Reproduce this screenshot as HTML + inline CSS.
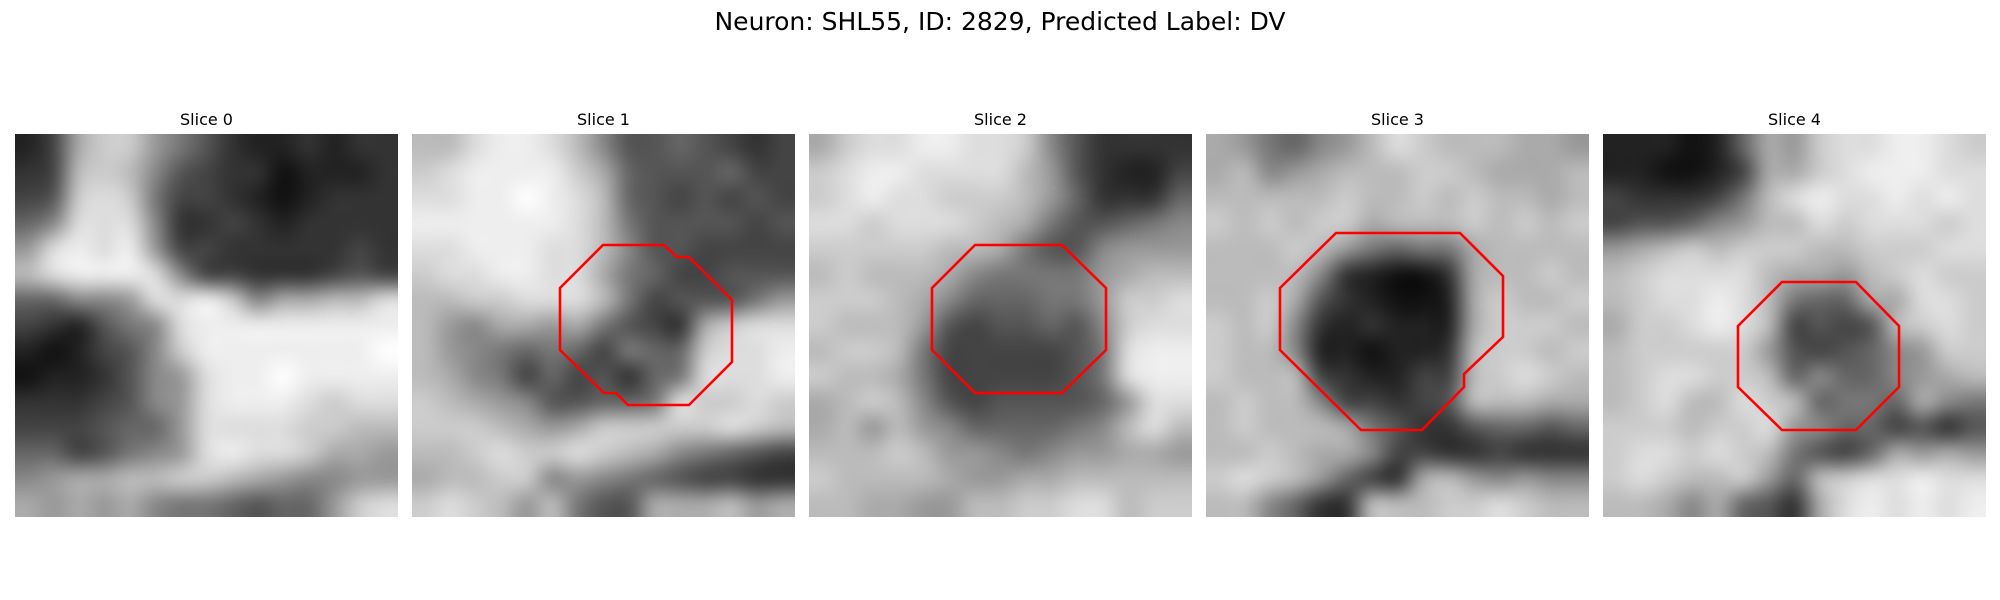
<!DOCTYPE html>
<html><head><meta charset="utf-8">
<style>
body{margin:0;background:#fff;width:2000px;height:600px;position:relative;overflow:hidden;font-family:"DejaVu Sans","Liberation Sans",sans-serif;}
#title{position:absolute;left:0;width:2000px;top:7px;text-align:center;font-size:25px;color:#000;}
.ptitle{position:absolute;width:383px;top:110px;text-align:center;font-size:16px;color:#000;}
canvas{position:absolute;top:134px;width:383px;height:383px;}
svg{position:absolute;left:0;top:0;}
</style></head><body>
<div id="title">Neuron: SHL55, ID: 2829, Predicted Label: DV</div>
<svg id="ov" width="2000" height="600"></svg>
<script>
const panelTitles=["Slice 0","Slice 1","Slice 2","Slice 3","Slice 4"];
const slice0=["24acc9753223233","34bcb8543312223","45cdc7443212333","68ddd8334323333","9dede9443333343","bdeeed844333454","66889ddec8aabbd","432578deeeeeeee","212458ceeeeeeef","1223589deefeeee","3334589deeedcdd","4445669ddddccbb","6645789deddcaa9","89aabbccba98899","a9a9a87765669cd"];
const slice1=["bbdeedb85565434","cdeeeeca6555644","ddeefedb6545454","eeeeeedb7555545","ddeeeddb8554444","cddeedda7644555","bbccdddb7455579","b98aa9a7543acdd","b9876764766cdde","ba874645367ddde","cba9855667dccdc","cccba9acccccdcb","bbcdccdcba87654","abbcc8987654433","cdcb9b755aaab9a"];
const slice2=["acddeeddc853333","cdeeddddb953224","cdeddcccb963336","ddcdddcba755678","cccccbba7558999","bcbbba877779abb","cccba8666779ccd","cbbb95455658cdd","bccb74444457dee","cbba74444457dee","abcb854555569dd","ab9b98666678bdb","bbbcb9987899aa9","cbbbba99aabbbbb","bbaa99bbccddbcc"];
const slice3=["a97689bdcbbbaa9","ab89abbbccbaaab","bbbbbcbbcbcbbab","cbcbccabbbcbcbc","bbbcb97677abbbb","bbbb832113abbcb","bbca532112acbbc","cbc8323222acccb","cbb8221223bccbc","cbbb432244bcdcb","bcbb844345bbbaa","bcbbba753356656","bbcbaa844334333","cdcb9643ab98988","bb8633bbbccdcbb"];
const slice4=["222126a9cddeedc","221124aacdeeedd","433347bdeddeded","455689bbdcdddcd","9abcbcccbbcccdd","bcddddbaa9bcdcc","bcddedb766aaddc","accdedb4545bcdc","bccccc9545689cc","bcddccb686689ab","bcdbbdcb6776a87","cccbccd98664535","cddcdcb7546a9a9","cdcbbc96bcddedd","bba8a653adedede"];
const slices=[slice0,slice1,slice2,slice3,slice4];
const roi1=[[603,245],[664,245],[677,257],[689,257],[732,300],[732,362],[689,405],[628,405],[616,393],[604,393],[560,350],[560,288]];
const roi2=[[975,245],[1062,245],[1106,288],[1106,350],[1062,393],[975,393],[932,350],[932,288]];
const roi3=[[1336,233],[1460,233],[1503,276],[1503,337],[1464,374],[1464,387],[1422,430],[1361,430],[1280,350],[1280,288]];
const roi4=[[1782,282],[1856,282],[1899,326],[1899,387],[1856,430],[1782,430],[1738,387],[1738,326]];
const rois=[null,roi1,roi2,roi3,roi4];
const lefts=[15,412,809,1206,1603];
const N=15;
slices.forEach((g,p)=>{
  const t=document.createElement('div');
  t.className='ptitle';t.style.left=lefts[p]+'px';t.textContent=panelTitles[p];
  
  
  document.body.appendChild(t);
  const small=document.createElement('canvas');small.width=N;small.height=N;
  const sc=small.getContext('2d');const img=sc.createImageData(N,N);
  for(let r=0;r<N;r++){const row=(g[r]||'').padEnd(N,'b');for(let c=0;c<N;c++){const v=parseInt(row[c],16)*17;const i=(r*N+c)*4;img.data[i]=v;img.data[i+1]=v;img.data[i+2]=v;img.data[i+3]=255;}}
  sc.putImageData(img,0,0);
  const cv=document.createElement('canvas');cv.width=383;cv.height=383;cv.style.left=lefts[p]+'px';
  
  
  const cx=cv.getContext('2d');cx.imageSmoothingEnabled=true;cx.imageSmoothingQuality='high';
  cx.drawImage(small,0,0,N,N,0,0,383,383);
  document.body.insertBefore(cv,document.getElementById('ov'));
});
const ov=document.getElementById('ov');
rois.forEach((pts,p)=>{
  if(!pts)return;
  const pl=document.createElementNS('http://www.w3.org/2000/svg','polygon');
  pl.setAttribute('points',pts.map(q=>q.join(',')).join(' '));
  pl.setAttribute('fill','none');pl.setAttribute('stroke','#ff0000');pl.setAttribute('stroke-width','2.6');
  
  
  ov.appendChild(pl);
});
</script>
</body></html>
